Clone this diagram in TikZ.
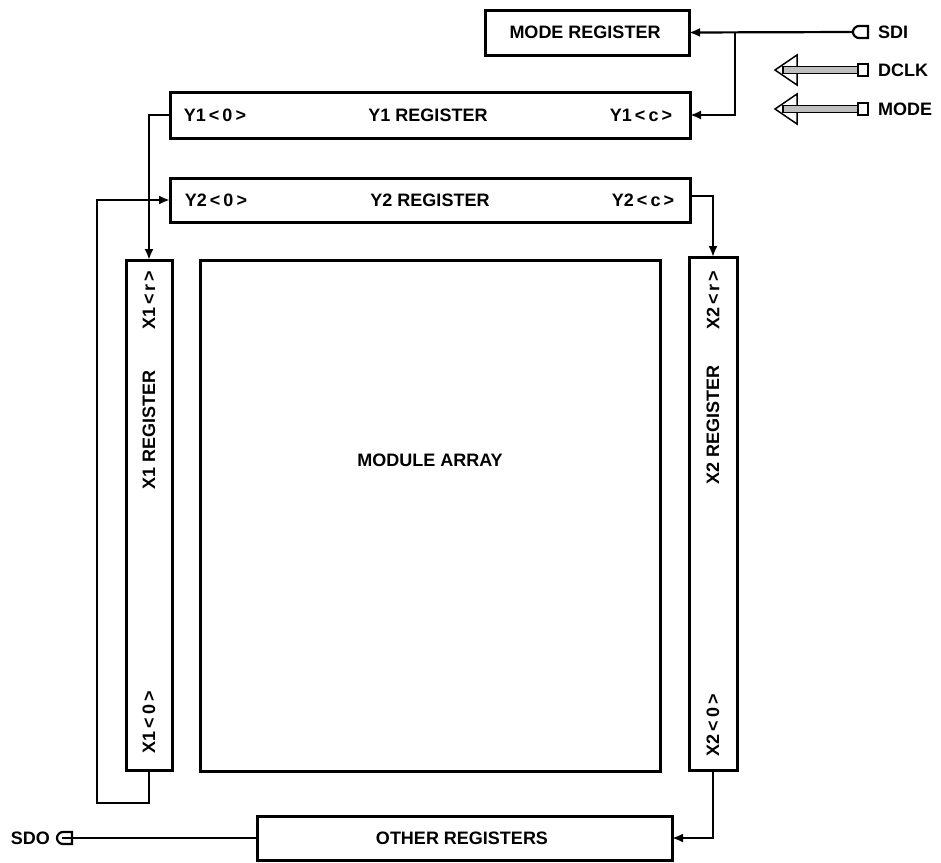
\documentclass[tikz,border=0pt]{standalone}
\usepackage{fontspec}
\setmainfont{Liberation Sans}
\usetikzlibrary{arrows.meta}
\begin{document}
\begin{tikzpicture}[x=1pt,y=-1pt,
  reg/.style={draw,line width=3pt,inner sep=0pt,outer sep=0pt},
  lbl/.style={inner sep=0pt,font=\fontsize{18}{21}\selectfont\bfseries},
  wire/.style={line width=2.2pt},
  arr/.style={wire,-{Latex[length=11pt,width=9pt]}},
  pin/.style={line width=2.2pt,fill=white}]
\useasboundingbox (0,0) rectangle (941,862);
% boxes
\node[reg,minimum width=204pt,minimum height=45pt] (mode) at (587,32.5) {};
\node[reg,minimum width=520pt,minimum height=46pt] (y1) at (430,115) {};
\node[reg,minimum width=520pt,minimum height=44pt] (y2) at (430,200) {};
\node[reg,minimum width=46pt,minimum height=510pt] (x1) at (149,515) {};
\node[reg,minimum width=460pt,minimum height=511pt] (ma) at (430,515.5) {};
\node[reg,minimum width=48pt,minimum height=513pt] (x2) at (713,513.5) {};
\node[reg,minimum width=415pt,minimum height=44pt] (oth) at (464.5,838) {};
% labels
\node[lbl] (tmode) at (585,32) {MODE REGISTER};
\node[lbl] (ty1) at (428,115) {Y1 REGISTER};
\node[lbl] (ty10) at (215,115) {Y1\,<\,0\,>};
\node[lbl] (ty1c) at (641,115) {Y1\,<\,c\,>};
\node[lbl] (ty2) at (430,200) {Y2 REGISTER};
\node[lbl] (ty20) at (216,200) {Y2\,<\,0\,>};
\node[lbl] (ty2c) at (643,200) {Y2\,<\,c\,>};
\node[lbl,rotate=90] (tx1r) at (149,300) {X1\,<\,r\,>};
\node[lbl,rotate=90] (tx1) at (149,430) {X1 REGISTER};
\node[lbl,rotate=90] (tx10) at (149,722) {X1\,<\,0\,>};
\node[lbl,rotate=90] (tx2r) at (713,300) {X2\,<\,r\,>};
\node[lbl,rotate=90] (tx2) at (713,425) {X2 REGISTER};
\node[lbl,rotate=90] (tx20) at (713,725) {X2\,<\,0\,>};
\node[lbl] (tma) at (430,460) {MODULE ARRAY};
\node[lbl] (toth) at (462,838) {OTHER REGISTERS};
\node[lbl,anchor=west] (tsdi) at (878,32) {SDI};
\node[lbl,anchor=west] (tdclk) at (878,70) {DCLK};
\node[lbl,anchor=west] (tmd) at (878,109) {MODE};
\node[lbl,anchor=east] (tsdo) at (50,838) {SDO};
% pins and coordinates
\coordinate (sdi) at (853,32);
\coordinate (j) at (735,32);
\coordinate (sdo) at (57,838);
\coordinate (c2) at (97,803);
\coordinate (c3) at (97,200);
% wires
\draw[arr] (sdi) -- (mode.east);
\draw[arr] (j) |- (y1.east);
\draw[arr] (y1.west) -| (x1.north);
\draw[arr] (x1.south) |- (c2) -- (c3) -- (y2.west);
\draw[arr] (y2.east |- 0,196) -| (x2.north);
\draw[arr] (x2.south) |- (oth.east);
\draw[wire] (oth.west) -- (sdo);
% SDI pin
\draw[pin] (868,26) -- (859,26) arc[start angle=90,end angle=270,radius=6pt] -- (868,38) -- cycle;
% SDO pin
\draw[pin] (72,832) -- (63,832) arc[start angle=90,end angle=270,radius=6pt] -- (72,844) -- cycle;
\draw[wire] (62,838) -- (72,838);
% bus pins
\foreach \yy/\nm in {70/dclk,109/mdb}{
  \draw[line width=1.5pt] (797,\yy-15) -- (775,\yy) -- (797,\yy+15) -- cycle;
  \draw[line width=1.6pt,fill=black!25] (783,\yy-3.5) rectangle (858,\yy+3.5);
  \draw[pin] (858,\yy-6) rectangle (868,\yy+6);
}
\end{tikzpicture}
\end{document}
